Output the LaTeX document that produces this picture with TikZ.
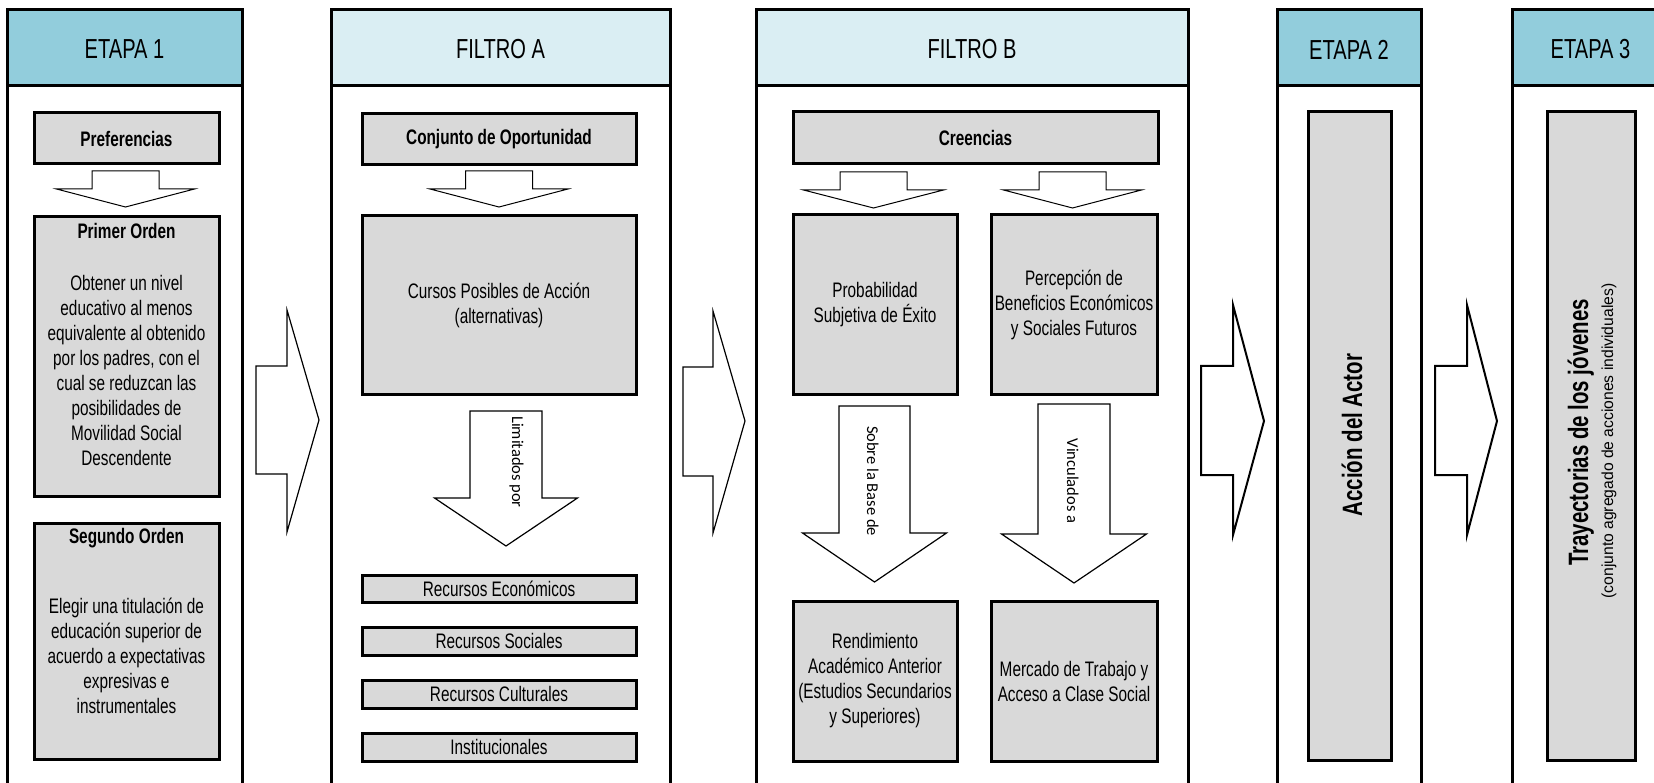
\documentclass[tikz,border=0pt]{standalone}
\usepackage{fontspec}
\setmainfont{Liberation Sans}[FakeStretch=0.73]
\newfontfamily\subf{Liberation Sans}[FakeStretch=0.98]
\newfontfamily\carl{Carlito}
\definecolor{etapa}{RGB}{146,205,220}
\definecolor{filtro}{RGB}{218,238,243}
\definecolor{boxgray}{RGB}{217,217,217}
\newcommand\bx[6]{\node[gb, minimum width={(#4-#2)*1pt}, minimum height={(#5-#3)*1pt}] (#1) at ({(#2+#4)/2},{(#3+#5)/2}) {#6};}
\newcommand\darr[7]{\draw[#7] ({#1-#2},#4) -- ({#1+#2},#4) -- ({#1+#2},#5) -- ({#1+#3},#5) -- (#1,#6) -- ({#1-#3},#5) -- ({#1-#2},#5) -- cycle;}
\newcommand\rarr[9]{\draw[#9] (#1,#4) -- (#2,#4) -- (#2,#6) -- (#3,#8) -- (#2,#7) -- (#2,#5) -- (#1,#5) -- cycle;}
\tikzset{
  col/.style={draw=black, line width=3pt},
  hdr/.style={draw=black, line width=3pt, inner sep=0pt, font=\fontsize{27.5}{30}\selectfont},
  gb/.style={draw=black, line width=3pt, fill=boxgray, inner sep=0pt, align=center, font=\fontsize{21}{25}\selectfont},
  txt/.style={inner sep=0pt, align=center, font=\fontsize{21}{25}\selectfont},
  ttl/.style={inner sep=0pt, align=center, font=\fontsize{21}{25}\selectfont\bfseries},
  small/.style={draw=black, line width=1pt, fill=white},
  big/.style={draw=black, line width=1.2pt, fill=white},
  thick arr/.style={draw=black, line width=2pt, fill=white},
  lbl/.style={inner sep=0pt, rotate=-90, anchor=base, font=\carl\fontsize{16.5}{18}\selectfont},
  vlbl/.style={inner sep=0pt, rotate=90, anchor=base, font=\fontsize{28}{32}\selectfont\bfseries}
}
\begin{document}
\begin{tikzpicture}[x=1pt,y=-1pt]
\useasboundingbox (0,0) rectangle (1654,783);
\fill[white] (0,0) rectangle (1654,783);
% columns
\draw[col] (7,10) rectangle (242,800);
\draw[col] (331,10) rectangle (670,800);
\draw[col] (756,10) rectangle (1188,800);
\draw[col] (1277,10) rectangle (1421,800);
\draw[col] (1512,10) rectangle (1700,800);
\node[hdr, fill=etapa, minimum width=235pt, minimum height=76pt] (h1) at (124.5,48) {};
\node[hdr, fill=filtro, minimum width=339pt, minimum height=76pt] (h2) at (500.5,48) {};
\node[hdr, fill=filtro, minimum width=432pt, minimum height=76pt] (h3) at (972,48) {};
\node[hdr, fill=etapa, minimum width=144pt, minimum height=76pt] (h4) at (1349,48) {};
\node[hdr, fill=etapa, minimum width=188pt, minimum height=76pt] (h5) at (1606,48) {};
\node[hdr, draw=none] (t1) at (124.5,49.5) {ETAPA 1};
\node[hdr, draw=none] (t2) at (500.5,49.5) {FILTRO A};
\node[hdr, draw=none] (t3) at (972,49.5) {FILTRO B};
\node[hdr, draw=none] (t4) at (1349,49.5) {ETAPA 2};
\node[hdr, draw=none] (t5) at (1590.5,49.5) {ETAPA 3};
% ETAPA 1
\bx{pref}{34}{113}{219}{164}{\bfseries Preferencias}
\darr{125.5}{33.5}{69}{171}{189}{207}{small}
\bx{primer}{34}{217}{219}{496}{}
\node[ttl] (primerT) at (126.5,231) {Primer Orden};
\node[txt] (primerB) at (126.5,370) {Obtener un nivel\\educativo al menos\\equivalente al obtenido\\por los padres, con el\\cual se reduzcan las\\posibilidades de\\Movilidad Social\\Descendente};
\bx{segundo}{34}{523}{219}{759}{}
\node[ttl] (segT) at (126.5,538) {Segundo Orden};
\node[txt] (segB) at (126.5,656) {Elegir una titulación de\\educación superior de\\acuerdo a expectativas\\expresivas e\\instrumentales};
% FILTRO A
\bx{conj}{362}{114}{636}{165}{\bfseries Conjunto de Oportunidad}
\darr{499}{33.5}{69}{171}{189}{207}{small}
\bx{cursos}{362}{216}{636}{394}{Cursos Posibles de Acción\\(alternativas)}
\darr{506}{36}{71.5}{411}{498}{546}{big}
\node[lbl] (limit) at (512,462) {Limitados por};
\bx{rec1}{362}{575}{636}{602}{Recursos Económicos}
\bx{rec2}{362}{627}{636}{655}{Recursos Sociales}
\bx{rec3}{362}{680}{636}{708}{Recursos Culturales}
\bx{rec4}{362}{733}{636}{761}{Institucionales}
% FILTRO B
\bx{cree}{793}{112}{1158}{164}{\bfseries Creencias}
\darr{873.5}{33.5}{70}{172}{190}{208}{small}
\darr{1072.5}{33.5}{69}{172}{190}{208}{small}
\bx{prob}{793}{215}{957}{394}{Probabilidad\\Subjetiva de Éxito}
\bx{perc}{991}{215}{1157}{394}{Percepción de\\Beneficios Económicos\\y Sociales Futuros}
\darr{874.5}{35.5}{72}{406}{533}{582}{big}
\darr{1074}{36}{72.5}{404}{534}{583}{big}
\node[lbl] (sobre) at (867,481) {Sobre la Base de};
\node[lbl] (vinc) at (1067,481) {Vinculados a};
\bx{rend}{793}{601}{957}{761}{Rendimiento\\Académico Anterior\\(Estudios Secundarios\\y Superiores)}
\bx{merc}{991}{601}{1157}{761}{Mercado de Trabajo y\\Acceso a Clase Social}
% ETAPA 2 / 3
\bx{accion}{1308}{112}{1391}{760}{}
\node[vlbl] (accT) at (1362,435) {Acción del Actor};
\bx{tray}{1547}{112}{1635}{760}{}
\node[vlbl] (trayT) at (1588,432.5) {Trayectorias de los jóvenes};
\node[inner sep=0pt, rotate=90, anchor=base, font=\subf\fontsize{16}{18}\selectfont] (traySub) at (1613,441) {(conjunto agregado de acciones individuales)};
% arrows between columns
\rarr{256}{287}{319}{366}{474}{310}{532}{420}{big}
\rarr{683}{713}{745}{367}{476}{311}{533}{421}{big}
\rarr{1201}{1233}{1264}{366}{475}{305}{535}{421}{thick arr}
\rarr{1435}{1467}{1497}{366}{475}{305}{535}{421}{thick arr}
\end{tikzpicture}
\end{document}
